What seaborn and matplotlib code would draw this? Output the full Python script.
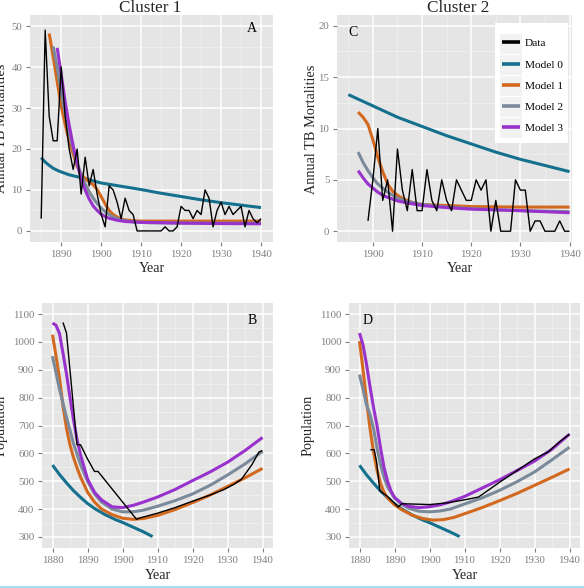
import numpy as np
import pandas as pd
import matplotlib
matplotlib.use("Agg")
import matplotlib.pyplot as plt
import seaborn as sns
from matplotlib.ticker import MultipleLocator, FixedLocator
from matplotlib.lines import Line2D
from matplotlib.patches import Rectangle

# ---------------- Data ----------------
# Panel A: Cluster 1, annual TB mortalities
a_data_years = list(range(1885, 1941))
a_data_vals = [3, 49, 28, 22, 22, 40, 28, 20, 15, 20,
               9, 18, 11, 15, 9, 4, 1, 11, 10, 7,
               3, 8, 5, 4, 0, 0, 0, 0, 0, 0,
               0, 1, 0, 0, 1, 6, 5, 5, 3, 5,
               4, 10, 8, 1, 5, 7, 4, 6, 4, 5,
               6, 1, 5, 3, 2, 3]
a_m0_years = [1885, 1886, 1887, 1888, 1889, 1890, 1892, 1895, 1900, 1905, 1910, 1915, 1920, 1925, 1930, 1935, 1940]
a_m0_vals = [17.9, 16.8, 16.0, 15.3, 14.8, 14.4, 13.7, 13.0, 11.7, 10.9, 10.1, 9.2, 8.4, 7.6, 6.9, 6.3, 5.7]
a_m1_years = [1887, 1888, 1889, 1890, 1891, 1892, 1893, 1894, 1895, 1896, 1897, 1898, 1899, 1900, 1901, 1902, 1903, 1904, 1905, 1906, 1908, 1910, 1920, 1930, 1940]
a_m1_vals = [48.2, 42.5, 36.5, 30.5, 26.0, 22.0, 18.8, 15.8, 13.8, 12.8, 12.0, 11.3, 10.1, 8.4, 6.6, 5.0, 4.0, 3.4, 2.9, 2.7, 2.5, 2.4, 2.4, 2.4, 2.4]
a_m2_years = [1888, 1889, 1890, 1891, 1892, 1893, 1894, 1895, 1896, 1897, 1898, 1899, 1900, 1901, 1902, 1903, 1905, 1908, 1912, 1920, 1930, 1940]
a_m2_vals = [45.0, 40.0, 34.0, 28.6, 24.0, 20.0, 16.5, 13.8, 11.5, 9.6, 8.0, 6.7, 5.6, 4.7, 4.0, 3.4, 2.7, 2.2, 2.0, 1.95, 1.9, 1.9]
a_m3_years = [1889, 1890, 1891, 1892, 1893, 1894, 1895, 1896, 1897, 1898, 1899, 1900, 1901, 1902, 1904, 1906, 1910, 1920, 1930, 1940]
a_m3_vals = [44.7, 38.3, 31.5, 25.8, 20.8, 16.4, 12.8, 10.0, 7.8, 6.1, 5.0, 4.1, 3.5, 3.1, 2.6, 2.3, 2.1, 1.9, 1.8, 1.75]

# Panel C: Cluster 2, annual TB mortalities
c_data_years = list(range(1899, 1941))
c_data_vals = [1, 5, 10, 3, 5, 0, 8, 4, 2, 6,
               2, 2, 6, 3, 2, 5, 3, 2, 5, 4,
               3, 3, 5, 4, 5, 0, 3, 0, 0, 0,
               5, 4, 4, 0, 1, 1, 0, 0, 0, 1,
               0, 0]
c_m0_years = [1895, 1900, 1905, 1910, 1915, 1920, 1925, 1930, 1935, 1940]
c_m0_vals = [13.3, 12.2, 11.1, 10.2, 9.3, 8.5, 7.7, 7.0, 6.4, 5.8]
c_m1_years = [1897, 1898, 1899, 1900, 1901, 1902, 1903, 1904, 1905, 1906, 1908, 1910, 1920, 1930, 1940]
c_m1_vals = [11.6, 11.1, 10.4, 8.9, 7.2, 5.8, 4.6, 3.9, 3.5, 3.2, 2.8, 2.6, 2.4, 2.35, 2.35]
c_m2_years = [1897, 1898, 1899, 1900, 1901, 1902, 1903, 1905, 1907, 1910, 1915, 1920, 1930, 1940]
c_m2_vals = [7.7, 6.7, 5.9, 5.2, 4.6, 4.2, 3.8, 3.2, 2.9, 2.6, 2.35, 2.2, 2.0, 1.9]
c_m3_years = [1897, 1898, 1899, 1900, 1901, 1902, 1903, 1905, 1907, 1910, 1915, 1920, 1930, 1940]
c_m3_vals = [5.9, 5.2, 4.6, 4.2, 3.8, 3.5, 3.3, 2.95, 2.75, 2.5, 2.3, 2.15, 2.0, 1.8]

# Panel B: Cluster 1, population
b_data_years = [1883, 1884, 1887, 1888, 1890, 1892, 1893, 1904, 1905, 1910, 1915, 1920, 1925, 1929, 1932, 1934, 1937, 1939, 1940]
b_data_vals = [1070, 1032, 631, 631, 580, 535, 535, 363, 368, 385, 405, 428, 450, 470, 490, 507, 560, 605, 610]
b_m0_years = [1880, 1882, 1884, 1886, 1888, 1890, 1892, 1895, 1898, 1900, 1903, 1906, 1908.6]
b_m0_vals = [558, 524, 494, 466, 442, 420, 402, 380, 362, 352, 335, 318, 301]
b_m1_years = [1880, 1881, 1882, 1883, 1884, 1885, 1886, 1887, 1888, 1890, 1892, 1894, 1897, 1900, 1903, 1906, 1910, 1915, 1920, 1925, 1930, 1935, 1940]
b_m1_vals = [1026, 950, 870, 770, 690, 630, 585, 548, 515, 461, 425, 400, 380, 367, 363, 366, 377, 398, 423, 450, 481, 512, 546]
b_m2_years = [1880, 1882, 1884, 1886, 1888, 1890, 1892, 1894, 1897, 1900, 1903, 1906, 1910, 1915, 1920, 1925, 1930, 1935, 1940]
b_m2_vals = [949, 830, 730, 635, 560, 500, 455, 425, 400, 390, 390, 396, 410, 430, 454, 485, 522, 562, 607]
b_m3_years = [1880, 1881, 1882, 1883, 1884, 1885, 1886, 1887, 1888, 1890, 1892, 1894, 1897, 1900, 1903, 1906, 1910, 1915, 1920, 1925, 1930, 1935, 1940]
b_m3_vals = [1068, 1060, 1030, 960, 885, 800, 720, 650, 595, 508, 460, 433, 408, 405, 413, 425, 443, 470, 502, 533, 568, 610, 657]

# Panel D: Cluster 2, population
d_data_years = [1883.1, 1884.2, 1884.9, 1885.8, 1888, 1891.1, 1892, 1895, 1900, 1905, 1910, 1914, 1920, 1925, 1930, 1934, 1937, 1940]
d_data_vals = [613, 613, 568, 466, 445, 407, 419, 418, 416, 422, 433, 443, 496, 538, 580, 606, 640, 669]
d_m0_years = [1880, 1882, 1884, 1886, 1888, 1890, 1892, 1895, 1898, 1900, 1903, 1906, 1908.6]
d_m0_vals = [557, 523, 493, 465, 441, 419, 401, 379, 361, 351, 334, 317, 301]
d_m1_years = [1880, 1881, 1882, 1883, 1884, 1885, 1886, 1887, 1888, 1890, 1892, 1895, 1898, 1901, 1904, 1907, 1910, 1915, 1920, 1925, 1930, 1935, 1940]
d_m1_vals = [1003, 900, 790, 690, 605, 540, 492, 460, 440, 415, 398, 378, 366, 360, 362, 370, 383, 405, 430, 456, 485, 514, 544]
d_m2_years = [1880, 1881, 1882, 1883, 1884, 1885, 1886, 1887, 1888, 1890, 1892, 1894, 1897, 1900, 1903, 1906, 1910, 1915, 1920, 1925, 1930, 1935, 1940]
d_m2_vals = [883, 830, 775, 740, 690, 620, 560, 515, 480, 440, 418, 403, 392, 390, 393, 400, 418, 440, 467, 498, 533, 577, 622]
d_m3_years = [1880, 1881, 1882, 1883, 1884, 1885, 1886, 1887, 1888, 1889, 1890, 1892, 1894, 1897, 1900, 1903, 1906, 1910, 1915, 1920, 1925, 1930, 1935, 1940]
d_m3_vals = [1032, 990, 920, 840, 765, 700, 620, 550, 500, 465, 442, 420, 410, 405, 408, 415, 426, 445, 475, 505, 538, 572, 615, 669]

series_names = ["Data", "Model 0", "Model 1", "Model 2", "Model 3"]
colors = {"Data": "#000000", "Model 0": "#15708E", "Model 1": "#D2691E",
          "Model 2": "#7A8A9A", "Model 3": "#9932CC"}

# ---------------- Style ----------------
sns.set_theme(style="darkgrid")
plt.rcParams['font.family'] = ['Liberation Serif', 'DejaVu Serif']

W, H = 584, 588
fig = plt.figure(figsize=(W / 100, H / 100), dpi=100)


def add_ax(l, r, t, b):
    return fig.add_axes([l / W, 1 - b / H, (r - l) / W, (b - t) / H])


def make_df(pairs):
    rows = []
    for name, yrs, vals in pairs:
        rows.append(pd.DataFrame({"Year": yrs, "Value": vals, "Series": name}))
    return pd.concat(rows, ignore_index=True)


def draw_panel(ax, df, xlim, ylim, xticks, yticks, xminor, yminor, letter, letter_xy):
    ax.set_facecolor("#E5E5E5")
    for name in ["Model 0", "Model 1", "Model 2", "Model 3", "Data"]:
        sub = df[df["Series"] == name]
        sns.lineplot(data=sub, x="Year", y="Value", ax=ax, color=colors[name],
                     lw=1.0 if name == "Data" else 2.2, estimator=None, sort=False,
                     legend=False, solid_capstyle="butt")
    ax.set_xlim(*xlim)
    ax.set_ylim(*ylim)
    ax.xaxis.set_major_locator(FixedLocator(xticks))
    ax.yaxis.set_major_locator(FixedLocator(yticks))
    ax.xaxis.set_minor_locator(MultipleLocator(xminor))
    ax.yaxis.set_minor_locator(MultipleLocator(yminor))
    ax.grid(which="major", color="white", lw=1.1)
    ax.grid(which="minor", color="#F2F2F2", lw=0.5)
    ax.set_axisbelow(True)
    for s in ax.spines.values():
        s.set_visible(False)
    ax.tick_params(which="major", bottom=True, left=True, length=3, width=0.8,
                   color="#7F7F7F", labelcolor="#7F7F7F", labelsize=7.8, pad=2.5)
    ax.tick_params(which="minor", length=0)
    ax.set_xlabel("")
    ax.set_ylabel("")
    ax.text(letter_xy[0], letter_xy[1], letter, ha="center", va="center",
            fontsize=10, color="black")


dfA = make_df([("Data", a_data_years, a_data_vals), ("Model 0", a_m0_years, a_m0_vals),
               ("Model 1", a_m1_years, a_m1_vals), ("Model 2", a_m2_years, a_m2_vals),
               ("Model 3", a_m3_years, a_m3_vals)])
dfC = make_df([("Data", c_data_years, c_data_vals), ("Model 0", c_m0_years, c_m0_vals),
               ("Model 1", c_m1_years, c_m1_vals), ("Model 2", c_m2_years, c_m2_vals),
               ("Model 3", c_m3_years, c_m3_vals)])
dfB = make_df([("Data", b_data_years, b_data_vals), ("Model 0", b_m0_years, b_m0_vals),
               ("Model 1", b_m1_years, b_m1_vals), ("Model 2", b_m2_years, b_m2_vals),
               ("Model 3", b_m3_years, b_m3_vals)])
dfD = make_df([("Data", d_data_years, d_data_vals), ("Model 0", d_m0_years, d_m0_vals),
               ("Model 1", d_m1_years, d_m1_vals), ("Model 2", d_m2_years, d_m2_vals),
               ("Model 3", d_m3_years, d_m3_vals)])

C_L, C_R, C_T, C_B = 337, 572, 15, 242
axA = add_ax(30, 273, 15, 242)
axC = add_ax(C_L, C_R, C_T, C_B)
axB = add_ax(42, 273, 303, 548)
axD = add_ax(349, 580, 303, 548)

draw_panel(axA, dfA, (1882.2, 1943.0), (-2.7, 52.7), [1890, 1900, 1910, 1920, 1930, 1940],
           [0, 10, 20, 30, 40, 50], 5, 5, "A", (1937.7, 49.3))
draw_panel(axC, dfC, (1892.7, 1940.5), (-1.05, 21.05), [1900, 1910, 1920, 1930, 1940],
           [0, 5, 10, 15, 20], 5, 2.5, "C", (1896.0, 19.3))
draw_panel(axB, dfB, (1877, 1943), (260, 1140), [1880, 1890, 1900, 1910, 1920, 1930, 1940],
           list(range(300, 1101, 100)), 5, 50, "B", (1937.0, 1076))
draw_panel(axD, dfD, (1877, 1943), (260, 1140), [1880, 1890, 1900, 1910, 1920, 1930, 1940],
           list(range(300, 1101, 100)), 5, 50, "D", (1882.4, 1076))


# Legend in panel C: white box, light key backgrounds, then the entries
def cx(px):
    return (px - C_L) / (C_R - C_L)


def cy(py):
    return 1 - (py - C_T) / (C_B - C_T)


axC.add_patch(Rectangle((cx(495), cy(143)), cx(568) - cx(495), cy(23) - cy(143),
                        transform=axC.transAxes, facecolor="white", edgecolor="none",
                        zorder=4))
for i in range(len(series_names)):
    yc = 44 + 21 * i
    axC.add_patch(Rectangle((cx(500), cy(yc + 10)), cx(522) - cx(500), cy(yc - 10) - cy(yc + 10),
                            transform=axC.transAxes, facecolor="#F2F2F2", edgecolor="none",
                            zorder=4.5))
handles = [Line2D([0], [0], color=colors[n], lw=2.6, solid_capstyle="butt") for n in series_names]
leg = axC.legend(handles, series_names, loc="upper left", bbox_to_anchor=(cx(502), cy(38.5)),
                 borderaxespad=0, borderpad=0, frameon=False, fontsize=8.2,
                 handlelength=1.6, handletextpad=0.4, labelspacing=0.98)
leg.set_zorder(6)
for t in leg.get_texts():
    t.set_color("black")

# Titles and axis labels
fig.text(150.5 / W, 1 - 11.7 / H, "Cluster 1", ha="center", va="baseline", fontsize=12.3)
fig.text(458 / W, 1 - 11.7 / H, "Cluster 2", ha="center", va="baseline", fontsize=12.3)
for cxp, by in [(151.7, 271.5), (459.5, 271.5), (157.5, 578.7), (465, 578.7)]:
    fig.text(cxp / W, 1 - by / H, "Year", ha="center", va="baseline", fontsize=10.3)
fig.text(8.5 / W, 1 - 128.5 / H, "Annual TB Mortalities", rotation=90, ha="right",
         va="center", fontsize=10.3)
fig.text(318 / W, 1 - 129 / H, "Annual TB Mortalities", rotation=90, ha="right",
         va="center", fontsize=10.3)
fig.text(7.5 / W, 1 - 425.5 / H, "Population", rotation=90, ha="right",
         va="center", fontsize=10.3)
fig.text(315 / W, 1 - 425.5 / H, "Population", rotation=90, ha="right",
         va="center", fontsize=10.3)

# thin light-blue rule at the bottom edge
fig.add_artist(Line2D([0, 1], [1 - 586.8 / H, 1 - 586.8 / H], transform=fig.transFigure,
                      color="#A9DCF2", lw=1.6))

fig.savefig("out.png", dpi=100, facecolor="white")
